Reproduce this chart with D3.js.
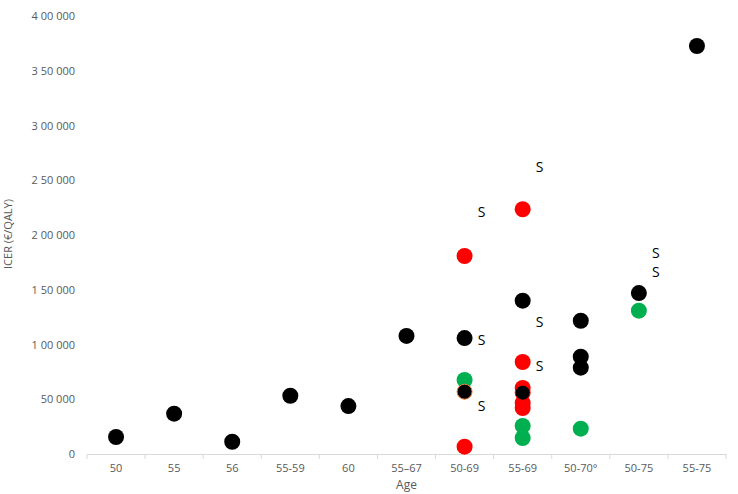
<!DOCTYPE html>
<html>
  <head>
    <meta charset="utf-8">
    <title>ICER by age</title>
    <script src="https://d3js.org/d3.v7.min.js"></script>
    <style>
      body { margin: 0; background: #fff; }
      text { font-family: "Open Sans", sans-serif; }
      .tick text, .axisTitle { fill: #595959; }
    </style>
  </head>
  <body>
    <svg id="chart" width="738" height="494"></svg>
    <script>
      // age groups on the x axis
      const ages = ["50", "55", "56", "55-59", "60", "55\u201367", "50-69", "55-69", "50-70\u00b0", "50-75", "55-75"];
      const yTicks = [0, 50000, 100000, 150000, 200000, 250000, 300000, 350000, 400000];

      // black points
      const blackAge = ["50", "55", "56", "55-59", "60", "55\u201367", "50-69", "55-69", "50-70\u00b0", "50-70\u00b0", "50-70\u00b0", "50-75", "55-75"];
      const blackIcer = [15500, 36800, 11200, 53200, 43800, 107800, 105900, 140000, 121700, 88900, 78800, 147000, 372600];
      // red points
      const redAge = ["50-69", "50-69", "55-69", "55-69", "55-69", "55-69", "55-69"];
      const redIcer = [180800, 6700, 223500, 84000, 60300, 46600, 42000];
      // green points
      const greenAge = ["50-69", "55-69", "55-69", "50-70\u00b0", "50-75"];
      const greenIcer = [67600, 25600, 14600, 23100, 130900];
      // black points drawn over hidden ones (orange ring / red behind)
      const overAge = ["50-69", "55-69"];
      const overIcer = [56900, 56000];
      const overRing = ["#ED7D31", "#FF0000"];
      // "S" labels
      const sAge = ["55-69", "55-69", "55-69", "50-69", "50-69", "50-69", "50-75", "50-75"];
      const sIcer = [262400, 120800, 80400, 221300, 104100, 44100, 183600, 166500];

      const svg = d3.select("#chart");
      const margin = { top: 16, right: 12, bottom: 40, left: 87 };

      const x = d3.scaleBand()
        .domain(ages)
        .range([margin.left, 726]);
      const y = d3.scaleLinear()
        .domain([0, 400000])
        .range([454, margin.top]);

      // "4 00 000" style grouping
      function fmt(v) {
        if (v == 0) return "0";
        let lakh = Math.floor(v / 100000);
        let rest = v % 100000;
        let th = Math.floor(rest / 1000);
        let un = rest % 1000;
        let s = (lakh > 0 ? String(th).padStart(2, "0") : String(th)) + " " + String(un).padStart(3, "0");
        return lakh > 0 ? lakh + " " + s : s;
      }

      // y axis (labels only)
      const yAxis = d3.axisLeft(y)
        .tickValues(yTicks)
        .tickSize(0)
        .tickPadding(12)
        .tickFormat(fmt);
      svg.append("g")
        .attr("transform", "translate(" + margin.left + ",0)")
        .call(yAxis)
        .call(g => g.select(".domain").remove())
        .call(g => g.selectAll("text").attr("font-size", 11).attr("font-family", "Open Sans"));

      // x axis
      const xAxis = d3.axisBottom(x).tickSize(0).tickPadding(10);
      const xg = svg.append("g")
        .attr("transform", "translate(0," + y(0) + ")")
        .call(xAxis);
      xg.select(".domain").attr("stroke", "#d9d9d9").attr("stroke-width", 1);
      xg.selectAll("text").attr("font-size", 11).attr("font-family", "Open Sans");
      // separators between categories
      const edges = ages.map(d => x(d)).concat([x.range()[1]]);
      xg.selectAll(".sep")
        .data(edges)
        .enter().append("line")
          .attr("class", "sep")
          .attr("x1", d => d).attr("x2", d => d)
          .attr("y1", 0).attr("y2", 5)
          .attr("stroke", "#d9d9d9");

      // axis titles
      svg.append("text")
        .attr("class", "axisTitle")
        .attr("x", (x.range()[0] + x.range()[1]) / 2)
        .attr("y", 489)
        .attr("text-anchor", "middle")
        .attr("font-size", 12)
        .text("Age");
      svg.append("text")
        .attr("class", "axisTitle")
        .attr("transform", "translate(12," + 234 + ") rotate(-90)")
        .attr("text-anchor", "middle")
        .attr("font-size", 11)
        .text("ICER (\u20ac/QALY)");

      const cx = d => x(d) + x.bandwidth() / 2;
      const r = 8;

      function dots(ageArr, valArr, color) {
        svg.append("g").selectAll("circle")
          .data(ageArr.map((a, i) => ({ age: a, v: valArr[i] })))
          .enter().append("circle")
            .attr("cx", d => cx(d.age))
            .attr("cy", d => y(d.v))
            .attr("r", r)
            .attr("fill", color);
      }
      dots(redAge, redIcer, "#FF0000");
      dots(greenAge, greenIcer, "#00B050");
      dots(blackAge, blackIcer, "#000000");

      // overlapping black points with a coloured rim
      svg.append("g").selectAll("circle")
        .data(overAge.map((a, i) => ({ age: a, v: overIcer[i], ring: overRing[i] })))
        .enter().append("circle")
          .attr("cx", d => cx(d.age))
          .attr("cy", d => y(d.v))
          .attr("r", r - 0.5)
          .attr("fill", "#000")
          .attr("stroke", d => d.ring)
          .attr("stroke-width", 1);

      // S labels
      svg.append("g").selectAll("text")
        .data(sAge.map((a, i) => ({ age: a, v: sIcer[i] })))
        .enter().append("text")
          .attr("x", d => cx(d.age) + 17)
          .attr("y", d => y(d.v))
          .attr("dy", "0.35em")
          .attr("text-anchor", "middle")
          .attr("font-size", 14)
          .attr("fill", "#000")
          .text("S");
    </script>
  </body>
</html>
